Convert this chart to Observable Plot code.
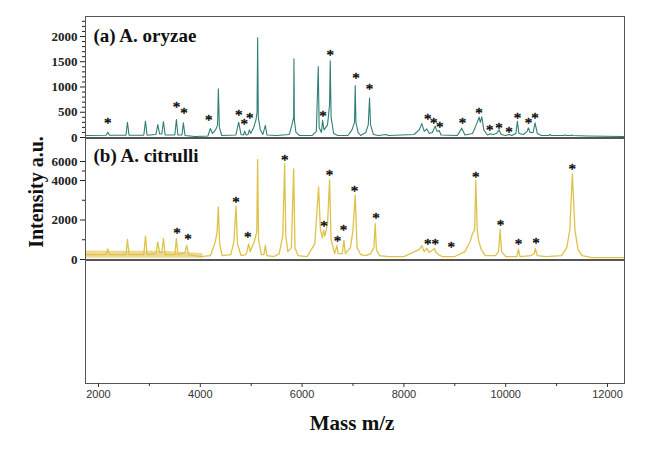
<!DOCTYPE html>
<html><head><meta charset="utf-8">
<script src="https://cdn.jsdelivr.net/npm/d3@7"></script>
<script src="https://cdn.jsdelivr.net/npm/@observablehq/plot@0.6"></script>
<style>
body{margin:0;background:#fff;}
#wrap{position:relative;width:651px;height:457px;overflow:hidden;background:#fff;}
#wrap svg{position:absolute;left:0;background:transparent;overflow:visible;}
#ylab{position:absolute;left:36px;top:192px;transform:translate(-50%,-50%) rotate(-90deg);font:bold 20px "Liberation Serif",serif;white-space:nowrap;color:#111;}
</style></head><body><div id="wrap"><div id="ylab">Intensity a.u.</div></div>
<script>
// ---- data ----
const mzDomain = [1745, 12334];
const mzTicks = [2000, 4000, 6000, 8000, 10000, 12000];
const mzMinorTicks = [3000, 5000, 7000, 9000, 11000];

// (a) A. oryzae spectrum
const oryzaeMz = [1750,2150,2183,2215,2540,2569,2600,2890,2923,2955,3130,3165,3200,3245,3276,3310,3500,3531,3560,3640,3668,3700,3900,4150,4198,4240,4300,4340,4355,4375,4420,4700,4754,4800,4850,4872,4900,4940,4964,4990,5050,5094,5115,5127,5140,5180,5230,5278,5310,5500,5750,5800,5834,5840,5848,5880,5950,6200,6280,6318,6335,6380,6403,6430,6500,6540,6553,6570,6620,6700,6900,6980,7030,7044,7058,7100,7150,7250,7300,7325,7345,7400,7500,7650,7700,8200,8300,8352,8400,8450,8500,8560,8614,8650,8693,8730,9050,9137,9200,9350,9420,9478,9500,9530,9570,9640,9693,9750,9820,9870,9910,10000,10066,10120,10200,10230,10260,10350,10420,10446,10480,10540,10577,10620,10700,10850,10871,10900,11140,11165,11200,11280,11296,11320,11600,12334];
const oryzaeIntensity = [40,45,105,45,45,303,45,45,323,45,60,257,70,70,317,50,50,356,50,50,290,40,20,30,178,80,150,250,964,200,40,50,303,60,50,125,50,60,150,80,200,350,500,1974,400,150,60,240,50,40,60,250,400,1558,350,100,40,40,120,1406,200,100,340,150,250,650,1520,400,80,40,40,150,300,1030,300,100,40,100,250,779,250,60,40,60,40,60,150,275,120,170,80,100,225,120,140,50,40,185,50,80,250,403,300,410,150,50,75,60,80,150,60,40,60,40,80,320,80,60,120,190,100,100,290,80,40,40,60,40,40,50,40,40,50,40,30,20];
const oryzaeStarMz = [2183,3531,3681,4166,4754,4866,4970,6409,6553,7058,7325,8470,8588,8706,9150,9478,9687,9870,10066,10230,10446,10577];
const oryzaeStarY  = [370,679,568,422,521,350,469,501,1709,1248,1030,436,370,283,363,561,224,271,191,469,363,469];
const oryzaeTicks = [0, 500, 1000, 1500, 2000];
const oryzaeMinorTicks = [100,200,300,400,600,700,800,900,1100,1200,1300,1400,1600,1700,1800,1900,2100,2200,2300];

// (b) A. citrulli spectrum
const citrulliMz = [1750,2150,2183,2215,2540,2569,2600,2890,2923,2955,3130,3165,3200,3245,3276,3310,3500,3531,3560,3700,3734,3770,4000,4200,4296,4330,4355,4380,4430,4600,4660,4702,4730,4800,4900,4951,4980,5060,5110,5127,5145,5200,5250,5278,5310,5450,5550,5620,5657,5680,5720,5790,5834,5860,5920,6100,6250,6324,6360,6400,6423,6450,6500,6540,6570,6640,6684,6710,6790,6822,6850,6950,7000,7044,7080,7150,7250,7350,7410,7437,7460,7520,7700,8000,8300,8352,8400,8450,8500,8601,8630,8680,8750,9000,9200,9300,9347,9390,9412,9440,9464,9520,9600,9800,9860,9890,9920,10000,10220,10250,10280,10500,10560,10583,10620,10800,11100,11200,11260,11309,11360,11420,11500,11700,12334];
const citrulliIntensity = [250,250,540,250,250,1015,250,250,1183,250,300,880,350,350,1050,250,250,1050,250,350,710,250,150,200,900,1400,2655,800,200,250,900,2690,800,200,250,795,400,900,1400,6210,1000,250,250,710,200,150,300,1200,5758,1200,400,600,5232,600,200,150,800,3670,1500,1100,1470,1200,1800,4074,1000,300,700,300,300,965,300,600,1500,3250,600,250,200,300,600,1810,500,200,150,150,500,710,400,560,350,560,350,250,150,150,400,900,1300,1500,4000,1500,1000,500,200,200,400,1505,400,150,150,530,150,200,300,560,200,150,200,600,1500,4705,1500,500,200,100,100];
const citrulliNoiseMz = [1745, 2500, 3300, 4050];
const citrulliNoiseLow = [60, 60, 60, 60];
const citrulliNoiseHigh = [430, 420, 420, 300];
const citrulliStarMz = [3544,3760,4702,4931,5657,6429,6540,6697,6815,7031,7450,8470,8614,8928,9412,9896,10250,10596,11309];
const citrulliStarY  = [1558,1254,3124,1335,6526,1893,4979,1132,1711,3661,2284,964,964,846,4810,1944,1000,1050,5653];
const citrulliTicks = [0, 2000, 4000, 6000];
const citrulliMinorTicks = [1000, 3000, 5000];

// ---- build ----
const W = 651, ML = 85, MR = 27;
const teal = "#2f7f77", yellow = "#dfc24a", frameColor = "#555";
const serif = "Liberation Serif";
const plain = d => String(d);
const starOpts = {text: () => "*", fontSize: 15, fontFamily: serif, fill: "#111", stroke: "#111", strokeWidth: 0.5, dy: 4};
const tbl = (xs, ys) => xs.map((m, i) => ({mz: m, v: ys[i]}));
const wrap = document.getElementById("wrap");
function place(svg, top) { svg.style.top = top + "px"; wrap.appendChild(svg); }

const plotA = Plot.plot({
  width: W, height: 123, marginLeft: ML, marginRight: MR, marginTop: 1, marginBottom: 1,
  x: {domain: mzDomain, axis: null},
  y: {domain: [0, 2396], axis: null},
  style: {background: "transparent", color: "#222"},
  marks: [
    Plot.line(tbl(oryzaeMz, oryzaeIntensity), {x: "mz", y: "v", stroke: teal, strokeWidth: 1.1, clip: true}),
    Plot.frame({stroke: frameColor}),
    Plot.axisY(oryzaeMinorTicks, {tickSize: 3, tickFormat: () => "", label: null}),
    Plot.axisY(oryzaeTicks, {tickSize: 5, tickPadding: 3, fontSize: 13, fontFamily: serif, fontWeight: "bold", tickFormat: plain, label: null}),
    Plot.text(tbl(oryzaeStarMz, oryzaeStarY), {x: "mz", y: "v", ...starOpts}),
    Plot.text(["(a) A. oryzae"], {frameAnchor: "top-left", dx: 8, dy: 19, textAnchor: "start", lineAnchor: "middle", fontSize: 19, fontWeight: "bold", fontFamily: serif, fill: "#111"})
  ]
});
place(plotA, 15);

// the (b) axis is compressed above 4000, as in the original figure
const squeeze = v => v <= 4000 ? v : 4000 + (v - 4000) * 0.481;
const plotB = Plot.plot({
  width: W, height: 124, marginLeft: ML, marginRight: MR, marginTop: 1, marginBottom: 2,
  x: {domain: mzDomain, axis: null},
  y: {type: "linear", transform: squeeze, domain: [0, 6126], axis: null},
  style: {background: "transparent", color: "#222"},
  marks: [
    Plot.areaY(citrulliNoiseMz.map((m, i) => ({mz: m, lo: citrulliNoiseLow[i], hi: citrulliNoiseHigh[i]})), {x: "mz", y1: "lo", y2: "hi", fill: yellow, fillOpacity: 0.6, clip: true}),
    Plot.line(tbl(citrulliMz, citrulliIntensity), {x: "mz", y: "v", stroke: yellow, strokeWidth: 1.3, clip: true}),
    Plot.frame({stroke: frameColor}),
    Plot.axisY(citrulliMinorTicks, {tickSize: 3, tickFormat: () => "", label: null}),
    Plot.axisY(citrulliTicks, {tickSize: 5, tickPadding: 3, fontSize: 13, fontFamily: serif, fontWeight: "bold", tickFormat: plain, label: null}),
    Plot.text(tbl(citrulliStarMz, citrulliStarY), {x: "mz", y: "v", ...starOpts}),
    Plot.text(["(b) A. citrulli"], {frameAnchor: "top-left", dx: 8, dy: 17, textAnchor: "start", lineAnchor: "middle", fontSize: 19, fontWeight: "bold", fontFamily: serif, fill: "#111"})
  ]
});
place(plotB, 137);

const plotC = Plot.plot({
  width: W, height: 198, marginLeft: ML, marginRight: MR, marginTop: 1, marginBottom: 74,
  x: {domain: mzDomain, axis: null},
  y: {domain: [0, 1], axis: null},
  style: {background: "transparent", color: "#333"},
  marks: [
    Plot.frame({stroke: frameColor}),
    Plot.axisX(mzMinorTicks, {tickSize: 3, tickFormat: () => "", label: null}),
    Plot.axisX(mzTicks, {tickSize: 4, tickPadding: 3, fontSize: 11, fontFamily: "Liberation Sans", tickFormat: plain, label: null}),
    Plot.text(["Mass m/z"], {frameAnchor: "bottom", dx: -3, dy: 40, lineAnchor: "middle", fontSize: 21, fontWeight: "bold", fontFamily: serif, fill: "#111"})
  ]
});
place(plotC, 259);
</script></body></html>
